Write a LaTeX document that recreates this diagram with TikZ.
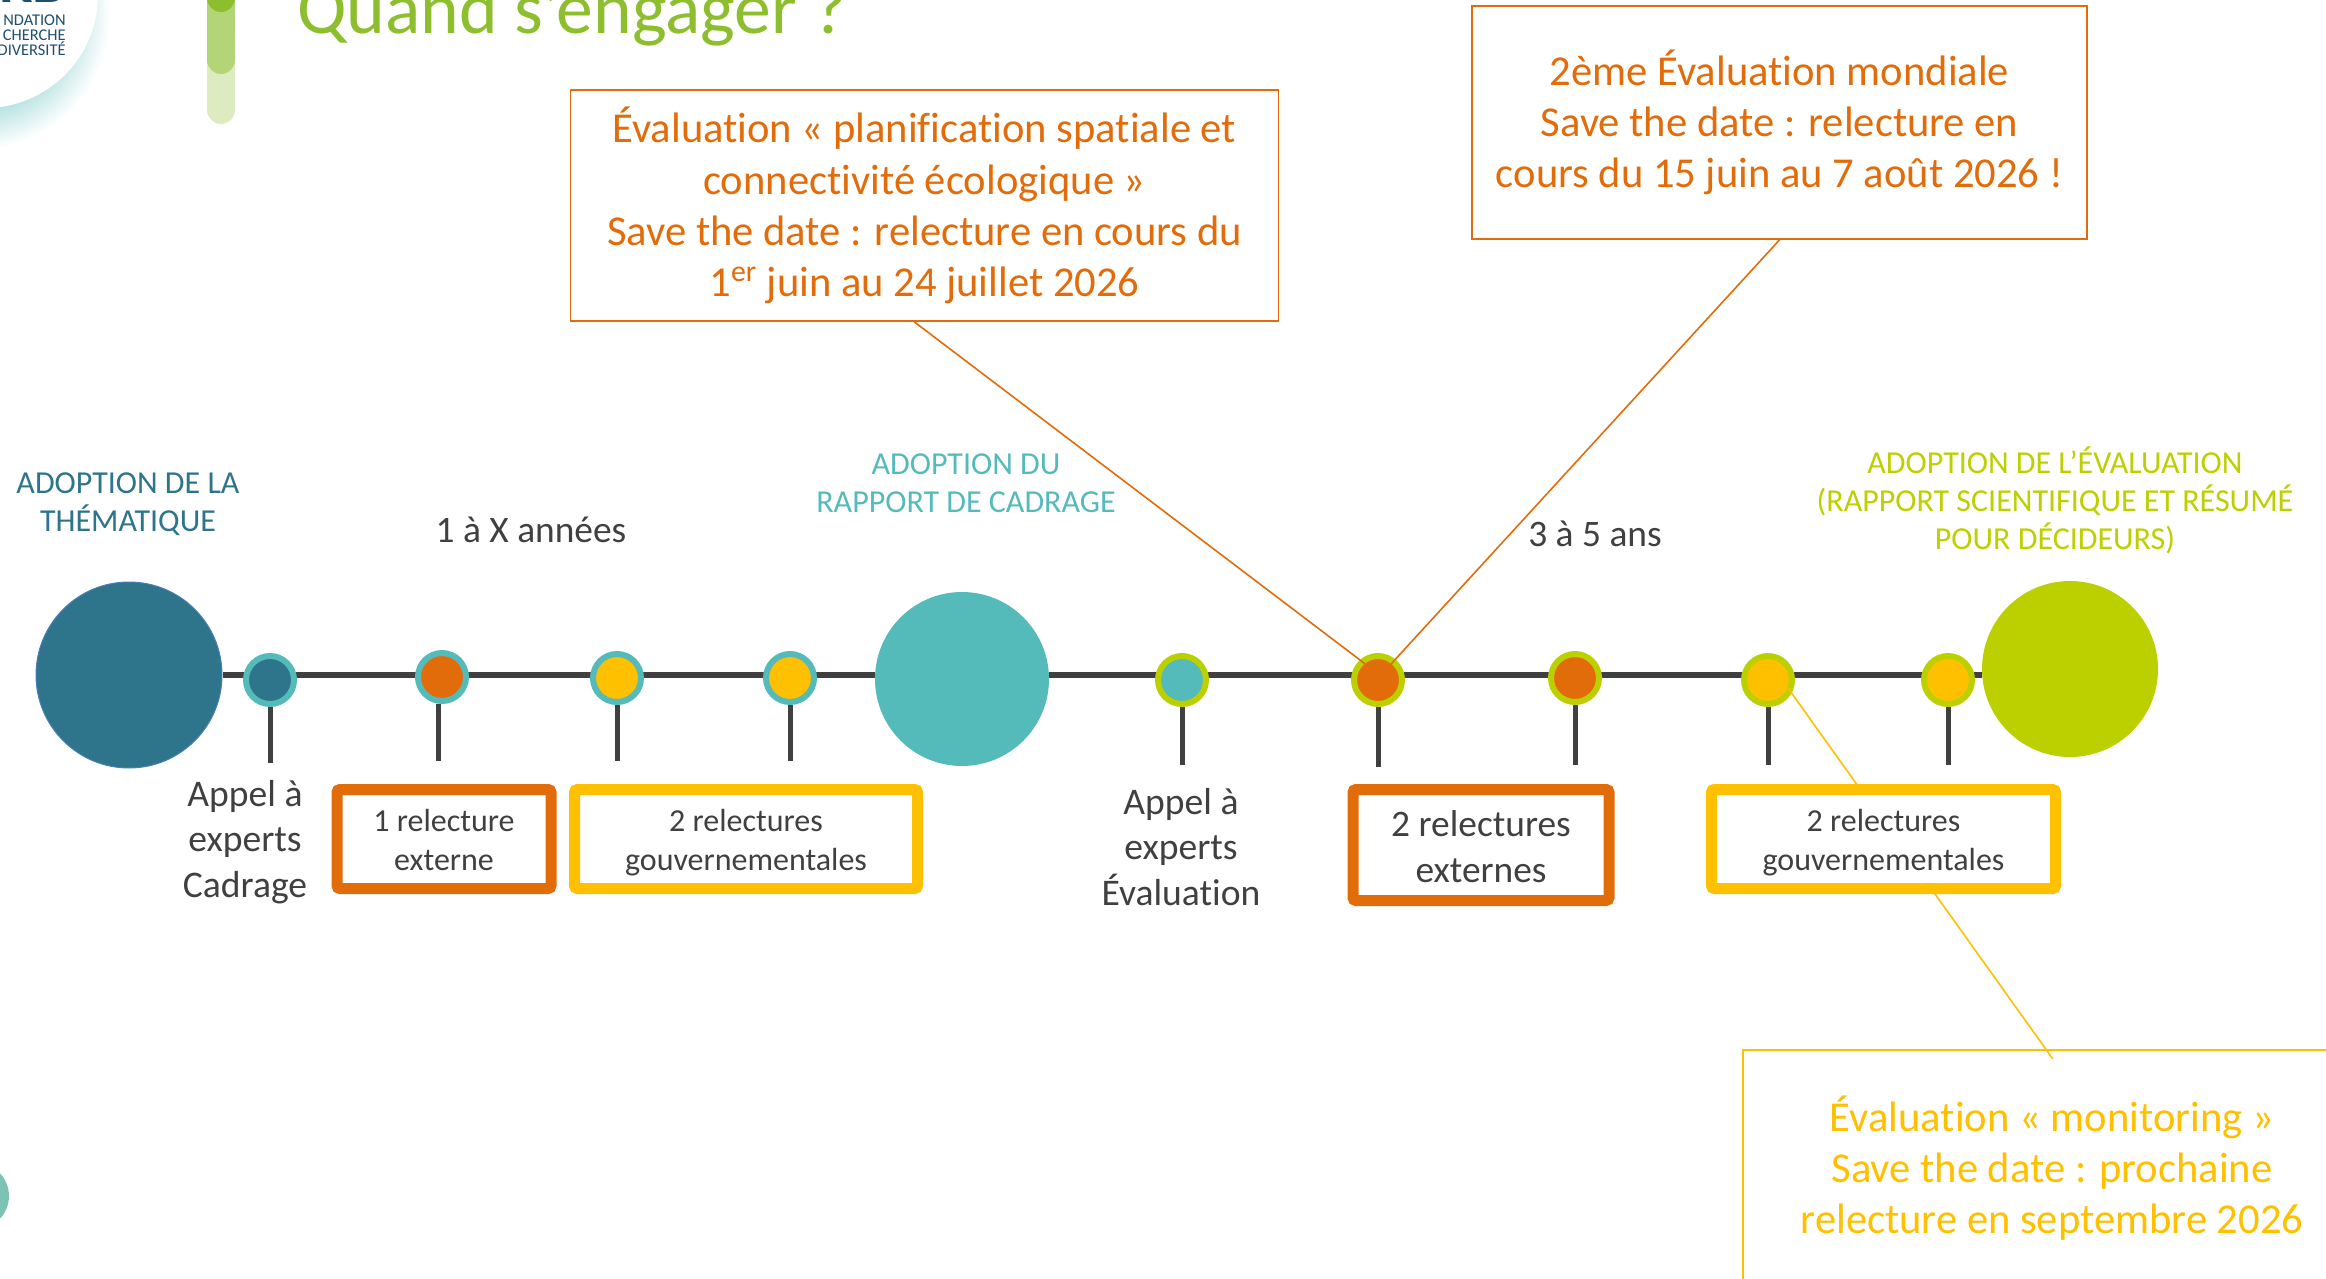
\documentclass[tikz,border=0pt]{standalone}
\usepackage{fontspec}
\setmainfont[Ligatures=NoCommon]{Carlito}
\usepackage{tikz}
\definecolor{tealdark}{HTML}{2E748B}
\definecolor{tealmid}{HTML}{54BABA}
\definecolor{limegreen}{HTML}{BCD000}
\definecolor{orangedark}{HTML}{E36C0A}
\definecolor{yellowdark}{HTML}{FFC000}
\definecolor{textgrey}{HTML}{404040}
\definecolor{titlegreen}{HTML}{8CBE2D}
\definecolor{navylogo}{HTML}{1F4E6E}
\definecolor{seagreen}{HTML}{7CC2B5}
\definecolor{startrim}{HTML}{4A7EBB}
\newcommand{\topgap}{\rule{0pt}{1.12em}}
\pgfdeclareradialshading{haloshade}{\pgfpointorigin}{
  color(0bp)=(tealmid!50);
  color(17bp)=(tealmid!45);
  color(25bp)=(white);
  color(50bp)=(white)}
\begin{document}
\begin{tikzpicture}[
x=0.5pt,y=-0.5pt,
bigdot/.style={
  circle,
  inner sep=0pt
  },
marker/.style={
  circle,
  line width=3pt,
  minimum size=24pt,
  inner sep=0pt
  },
stem/.style={
  draw=textgrey,
  line width=2.5pt
  },
reviewbox/.style={
  draw,
  fill=white,
  rounded corners=1.5pt,
  line width=5.5pt,
  inner ysep=0pt,
  align=center,
  text=textgrey,
  font=\fontsize{16}{19.2}\selectfont
  },
callout/.style={
  draw,
  fill=white,
  line width=0.9pt,
  align=center,
  font=\fontsize{21.3}{25.6}\selectfont
  },
stage/.style={
  align=center,
  font=\fontsize{16}{19}\selectfont
  },
lead/.style={
  line width=0.8pt,
  shorten >=-3pt
  }
]
\useasboundingbox (0,0) rectangle (2326,1279);
\clip (0,0) rectangle (2326,1279);

% Slide furniture
\shade[shading=haloshade] (-25,15) circle (135);
\fill[white] (-15,-5) circle (113);
\node[anchor=base east,inner sep=0pt,text=navylogo,font=\bfseries\fontsize{30}{30}\selectfont] (logo) at (67,3) {RB};
\node[anchor=east,inner sep=0pt,align=right,text=navylogo,font=\fontsize{8.2}{7.5}\selectfont] (logotext) at (66,35) {NDATION\\CHERCHE\\DIVERSITÉ};
\fill[titlegreen!30] (207,40) -- (235,40) -- (235,110) arc (0:180:14) -- cycle;
\fill[titlegreen!65] (207,0) -- (235,0) -- (235,60) arc (0:180:14) -- cycle;
\fill[titlegreen] (207,-5) -- (235,-5) -- (235,-2) arc (0:180:14) -- cycle;
\node[anchor=base west,inner sep=0pt,text=titlegreen,font=\fontsize{36.8}{36.8}\selectfont] (title) at (297,34) {Quand s’engager ?};
\fill[seagreen] (-24,1196) circle (33);

% Timeline
\node[bigdot,fill=tealdark,draw=startrim,line width=0.5pt,minimum size=93pt] (start) at (129,675) {};
\node[bigdot,fill=tealmid,minimum size=87pt] (scope) at (962,679) {};
\node[bigdot,fill=limegreen,minimum size=88pt] (final) at (2070,669) {};
\draw[textgrey,line width=3pt] (start.east) -- (scope.west |- start.east);
\draw[textgrey,line width=3pt] (scope.east |- start.east) -- (final.west |- start.east);

% Markers and their stems
\foreach \mx/\my/\rim/\core/\sx/\ey [count=\mi] in {
  270/680/tealmid/tealdark/270/763,
  442/677/tealmid/orangedark/438/761,
  617/678/tealmid/yellowdark/617/761,
  790/678/tealmid/yellowdark/790/761,
  1182/680/limegreen/tealmid/1182/765,
  1378/680/limegreen/orangedark/1378/767,
  1575/678/limegreen/orangedark/1575/765,
  1768/680/limegreen/yellowdark/1768/765,
  1948/680/limegreen/yellowdark/1948/765}
{
  \node[marker,draw=\rim,fill=\core] (mk\mi) at (\mx,\my) {};
  \coordinate (st\mi) at (\sx,\ey);
  \draw[stem] (st\mi |- mk\mi.south) -- (st\mi);
}

% Callouts
\node[callout,draw=orangedark,text=orangedark,minimum width=354pt,minimum height=115.5pt] (planning) at (924.5,205.5) {Évaluation « planification spatiale et\\connectivité écologique »\\Save the date : relecture en cours du\\1\textsuperscript{er} juin au 24 juillet 2026};
\node[callout,draw=orangedark,text=orangedark,minimum width=307.5pt,minimum height=116.5pt] (global) at (1779.5,122.5) {2ème Évaluation mondiale\\Save the date : relecture en\\cours du 15 juin au 7 août 2026 !};
\node[callout,draw=yellowdark,text=yellowdark,minimum width=309pt,minimum height=118pt] (monitoring) at (2052,1168) {Évaluation « monitoring »\\Save the date : prochaine\\relecture en septembre 2026};
\draw[lead,orangedark] (planning.-95) -- (mk6.132);
\draw[lead,orangedark] (global.south) -- (mk6.50);
\draw[lead,yellowdark,shorten <=-6pt] (monitoring.93) -- (mk8.-29);

% Review boxes
\node[reviewbox,draw=orangedark,minimum width=107pt,minimum height=49.5pt] (ext1) at (444,839) {\topgap 1 relecture\\externe\strut};
\node[reviewbox,draw=yellowdark,minimum width=171.5pt,minimum height=49.5pt] (gov1) at (746,839) {\topgap 2 relectures\\gouvernementales\strut};
\node[reviewbox,draw=orangedark,minimum width=128pt,minimum height=55.5pt,font=\fontsize{18.7}{23}\selectfont] (ext2) at (1481,845) {\topgap 2 relectures\\externes\strut};
\node[reviewbox,draw=yellowdark,minimum width=172pt,minimum height=49.5pt] (gov2) at (1883.5,839) {\topgap 2 relectures\\gouvernementales\strut};

% Labels
\node[stage,text=tealdark] (lblstart) at (128,504) {ADOPTION DE LA\\THÉMATIQUE};
\node[stage,text=tealmid] (lblscope) at (966,483) {ADOPTION DU\\RAPPORT DE CADRAGE};
\node[stage,text=limegreen] (lblfinal) at (2055,500) {ADOPTION DE L’ÉVALUATION\\(RAPPORT SCIENTIFIQUE ET RÉSUMÉ\\POUR DÉCIDEURS)};
\node[text=textgrey,font=\fontsize{18.7}{22}\selectfont] (span1) at (531,530) {1 à X années};
\node[text=textgrey,font=\fontsize{18.7}{22}\selectfont] (span2) at (1595,534) {3 à 5 ans};
\node[align=center,text=textgrey,font=\fontsize{18.8}{22.6}\selectfont] (call1) at (245,842) {Appel à\\experts\\Cadrage};
\node[align=center,text=textgrey,font=\fontsize{18.8}{22.6}\selectfont] (call2) at (1181,847) {Appel à\\experts\\Évaluation};
\end{tikzpicture}
\end{document}
